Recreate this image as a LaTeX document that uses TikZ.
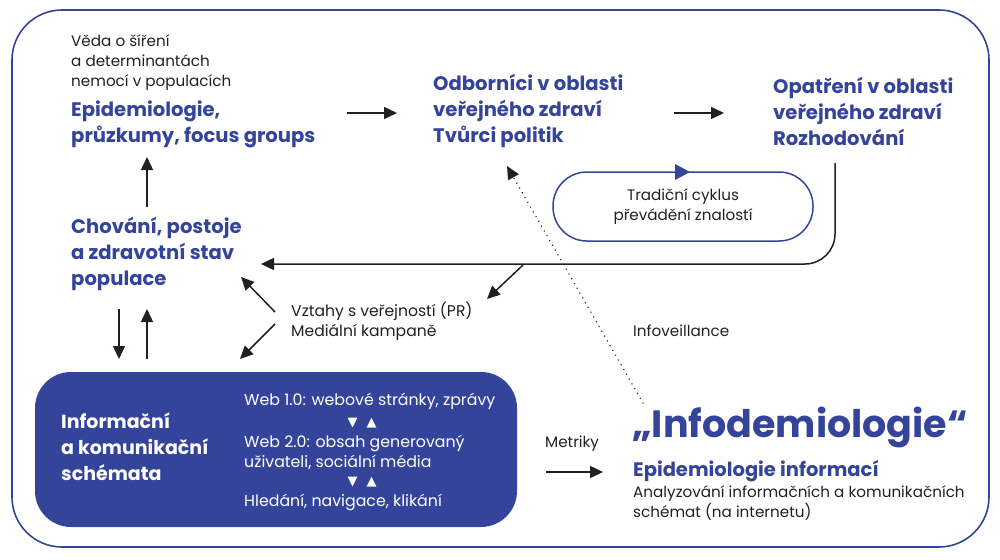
\documentclass[tikz,border=0pt]{standalone}
\usepackage{fontspec}
\setmainfont{Poppins}
\newfontfamily\symfont{DejaVu Sans}
\usetikzlibrary{arrows.meta}
\definecolor{ublue}{RGB}{52,68,154}
\definecolor{ublack}{RGB}{35,31,32}
\tikzset{
  small/.style={anchor=west,align=left,inner sep=0pt,text=ublack,font=\fontsize{15.2}{20}\selectfont},
  head/.style={anchor=west,align=left,inner sep=0pt,text=ublue,font=\fontsize{19.6}{26}\selectfont\bfseries},
  whitehead/.style={anchor=west,align=left,inner sep=0pt,text=white,font=\fontsize{19}{26}\selectfont\bfseries},
  whitesmall/.style={anchor=west,align=left,inner sep=0pt,text=white,font=\fontsize{15.8}{19.5}\selectfont},
  tris/.style={text=white,inner sep=0pt,font=\symfont\fontsize{13}{14}\selectfont},
  arr/.style={draw=ublack,line width=1.5pt,-{Triangle[length=13pt,width=12pt]}},
}
\begin{document}
\begin{tikzpicture}[x=1pt,y=-1pt]
\useasboundingbox (0,0) rectangle (1000,559);
% outer frame
\draw[ublue,line width=1.6pt,rounded corners=50pt] (12,10) rectangle (989,547);
% blue box
\fill[ublue,rounded corners=36pt] (35,372) rectangle (517,527);

% texts
\node[small] (veda) at (71,63) {Věda o šíření\\a determinantách\\nemocí v populacích};
\node[head] (epi) at (71,124) {Epidemiologie,\\průzkumy, focus groups};
\node[head] (odb) at (433,111) {Odborníci v oblasti\\veřejného zdraví\\Tvůrci politik};
\node[head] (opa) at (773,111) {Opatření v oblasti\\veřejného zdraví\\Rozhodování};
\node[head] (chov) at (71,254) {Chování, postoje\\a zdravotní stav\\populace};
\node[small,font=\fontsize{15.6}{20}\selectfont] (pr) at (291,321) {Vztahy s veřejností (PR)\\Mediální kampaně};
\node[small] (infov) at (633,331) {Infoveillance};
\node[small] (metr) at (545,444) {Metriky};
\node[whitehead] (ikt) at (61,447) {Informační\\a komunikační\\schémata};
\node[whitesmall] (web1) at (244,401) {Web 1.0: webové stránky, zprávy};
\node[tris] (tri1) at (362,423) {▼\hspace{9pt}▲};
\node[whitesmall] (web2) at (244,452.5) {Web 2.0: obsah generovaný\\uživateli, sociální média};
\node[tris] (tri2) at (362,482) {▼\hspace{9pt}▲};
\node[whitesmall] (web3) at (244,502) {Hledání, navigace, klikání};
\node[anchor=west,inner sep=0pt,text=ublue,font=\fontsize{38}{46}\selectfont\bfseries] (info) at (632,428) {„Infodemiologie“};
\node[anchor=west,inner sep=0pt,text=ublue,font=\fontsize{19.5}{26}\selectfont\bfseries] (epiinf) at (633,471) {Epidemiologie informací};
\node[small] (anal) at (633,503) {Analyzování informačních a komunikačních\\schémat (na internetu)};

% arrow coordinates
\coordinate (a1s) at (347,113); \coordinate (a1e) at (397,113);
\coordinate (a2s) at (674,113); \coordinate (a2e) at (724,113);
\coordinate (a3s) at (147,207); \coordinate (a3e) at (147,157);
\coordinate (a4s) at (119,309); \coordinate (a4e) at (119,359);
\coordinate (a5s) at (147,359); \coordinate (a5e) at (147,309);
\coordinate (a6s) at (275,312); \coordinate (a6e) at (241,277);
\coordinate (a7s) at (275,324); \coordinate (a7e) at (240,359);
\coordinate (a8s) at (523,265); \coordinate (a8e) at (487,299);
\coordinate (a9s) at (546,472); \coordinate (a9e) at (603,472);
\coordinate (lps) at (835,163); \coordinate (lpe) at (261,264);
\coordinate (dts) at (643,403); \coordinate (dte) at (507,166);

\draw[arr] (a1s) -- (a1e);
\draw[arr] (a2s) -- (a2e);
\draw[arr] (a3s) -- (a3e);
\draw[arr] (a4s) -- (a4e);
\draw[arr] (a5s) -- (a5e);
\draw[arr] (a6s) -- (a6e);
\draw[arr] (a7s) -- (a7e);
\draw[arr] (a8s) -- (a8e);
\draw[arr] (a9s) -- (a9e);
\draw[arr,rounded corners=30pt] (lps) |- (lpe);
\draw[ublack,line width=1.6pt,dash pattern=on 0.01pt off 5.5pt,line cap=round,-{Triangle[length=13pt,width=12pt]}] (dts) -- (dte);

% traditional cycle
\draw[ublue,line width=1.5pt,rounded corners=34pt] (553,172) rectangle (813,241);
\fill[ublue] (675,164) -- (690,172) -- (675,180) -- cycle;
\node[anchor=center,align=center,inner sep=0pt,text=ublack,font=\fontsize{15.2}{20}\selectfont] (trad) at (683,207) {Tradiční cyklus\\převádění znalostí};
\end{tikzpicture}
\end{document}
